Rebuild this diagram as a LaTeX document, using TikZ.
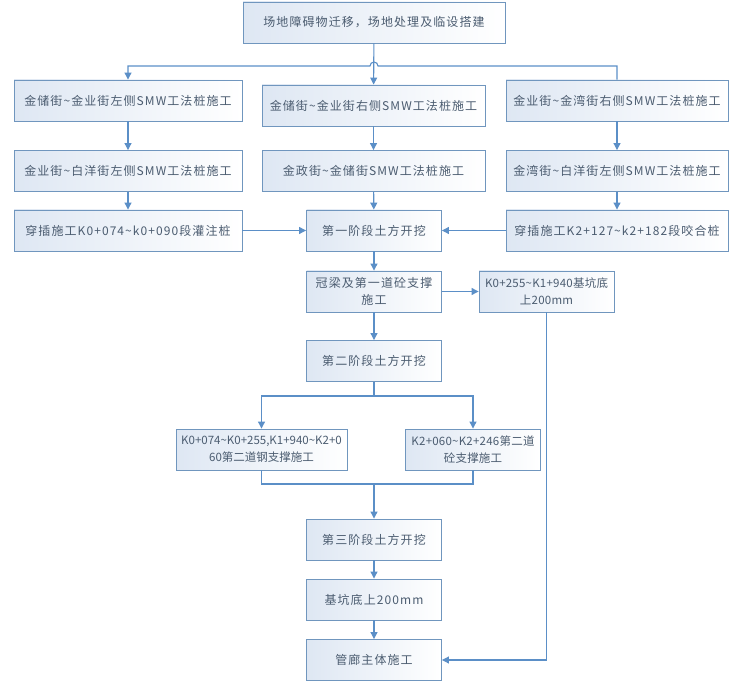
\documentclass[tikz,border=0pt]{standalone}
\usepackage{fontspec}
\setmainfont{Noto Sans CJK SC}[LetterSpace=9]
\newfontfamily\tight{Noto Sans CJK SC}[LetterSpace=2]
\usepackage{tikz}
\usetikzlibrary{arrows.meta,positioning}
\definecolor{lnblue}{RGB}{91,143,199}
\definecolor{bdblue}{RGB}{112,150,190}
\definecolor{fillblue}{RGB}{222,231,243}
\definecolor{txt}{RGB}{75,92,112}
\tikzset{blk/.style={draw=bdblue,line width=0.9pt,left color=fillblue,right color=white,
    minimum height=41pt,align=center,inner sep=2pt,text=txt,font=\fontsize{12}{17}\selectfont}}
\tikzset{blks/.style={blk,font=\fontsize{11.5}{17}\selectfont\tight}}
\tikzset{ln/.style={draw=lnblue,line width=1.1pt}}

\begin{document}
\begin{tikzpicture}[x=1pt,y=-1pt,>={Triangle[width=7pt,length=7pt]}]
    \useasboundingbox (0,0) rectangle (746,692);
    \node[blk,minimum width=262pt] (top)at (374,22.5) {场地障碍物迁移，场地处理及临设搭建};

    \node[blk,minimum width=228pt] (l1)at (128,100.5) {金储街\textasciitilde 金业街左侧SMW工法桩施工};
    \node[blk,minimum width=223pt] (m1)at (373.5,105.5) {金储街\textasciitilde 金业街右侧SMW工法桩施工};
    \node[blk,minimum width=222pt] (r1)at (617,100.5) {金业街\textasciitilde 金湾街右侧SMW工法桩施工};

    \node[blk,minimum width=228pt] (l2)at (128,171) {金业街\textasciitilde 白洋街左侧SMW工法桩施工};
    \node[blk,minimum width=223pt] (m2)at (373.5,171) {金政街\textasciitilde 金储街SMW工法桩施工};
    \node[blk,minimum width=222pt] (r2)at (617,171) {金湾街\textasciitilde 白洋街左侧SMW工法桩施工};

    \node[blk,minimum width=228pt] (l3)at (128,230.5) {穿插施工K0+074\textasciitilde k0+090段灌注桩};
    \node[blk,minimum width=135pt] (m3)at (374,230.5) {第一阶段土方开挖};
    \node[blk,minimum width=222pt] (r3)at (617,230.5) {穿插施工K2+127\textasciitilde k2+182段咬合桩};

    \node[blk,minimum width=135pt] (gl)at (374,291.5) {冠梁及第一道砼支撑\\施工};
    \node[blks,minimum width=135pt] (kd)at (546.5,291.5) {K0+255\textasciitilde K1+940基坑底\\上200mm};
    \node[blk,minimum width=135pt] (s2)at (374,361) {第二阶段土方开挖};

    \node[blks,minimum width=171pt,font=\fontsize{11.5}{17}\selectfont\addfontfeature{LetterSpace=0}] (zl)at (261.5,449.5) {K0+074\textasciitilde K0+255,K1+940\textasciitilde K2+0\\60第二道钢支撑施工};
    \node[blks,minimum width=135pt] (zr)at (473,449.5) {K2+060\textasciitilde K2+246第二道\\砼支撑施工};

    \node[blk,minimum width=135pt] (s3)at (374,539.5) {第三阶段土方开挖};
    \node[blk,minimum width=135pt] (jk)at (374,599.5) {基坑底上200mm};
    \node[blk,minimum width=135pt] (gt)at (374,660) {管廊主体施工};

    % branch points
    \coordinate (jn) at (374,66);
    \coordinate (sp) at (374,396);
    \coordinate (mg) at (374,484);

    \draw [ln,->] (top) -- (m1);
    \draw [ln,->] (r1.north) |- ([xshift=4pt]jn) arc[start angle=0,end angle=180,radius=4pt] -| (l1.north);
    \draw [ln,->] (l1) -- (l2);
    \draw [ln,->] (m1) -- (m2);
    \draw [ln,->] (r1) -- (r2);
    \draw [ln,->] (l2) -- (l3);
    \draw [ln,->] (m2) -- (m3);
    \draw [ln,->] (r2) -- (r3);
    \draw [ln,->] (l3) -- (m3);
    \draw [ln,->] (r3) -- (m3);
    \draw [ln,->] (m3) -- (gl);
    \draw [ln,->] (gl) -- (kd);
    \draw [ln,->] (gl) -- (s2);
    \draw [ln] (s2) -- (sp);
    \draw [ln,->] (sp) -| (zl.north);
    \draw [ln,->] (sp) -| (zr.north);
    \draw [ln] (zl.south) |- (mg);
    \draw [ln] (zr.south) |- (mg);
    \draw [ln,->] (mg) -- (s3);
    \draw [ln,->] (s3) -- (jk);
    \draw [ln,->] (jk) -- (gt);
    \draw [ln,->] (kd.south) |- (gt.east);
\end{tikzpicture}
\end{document}
